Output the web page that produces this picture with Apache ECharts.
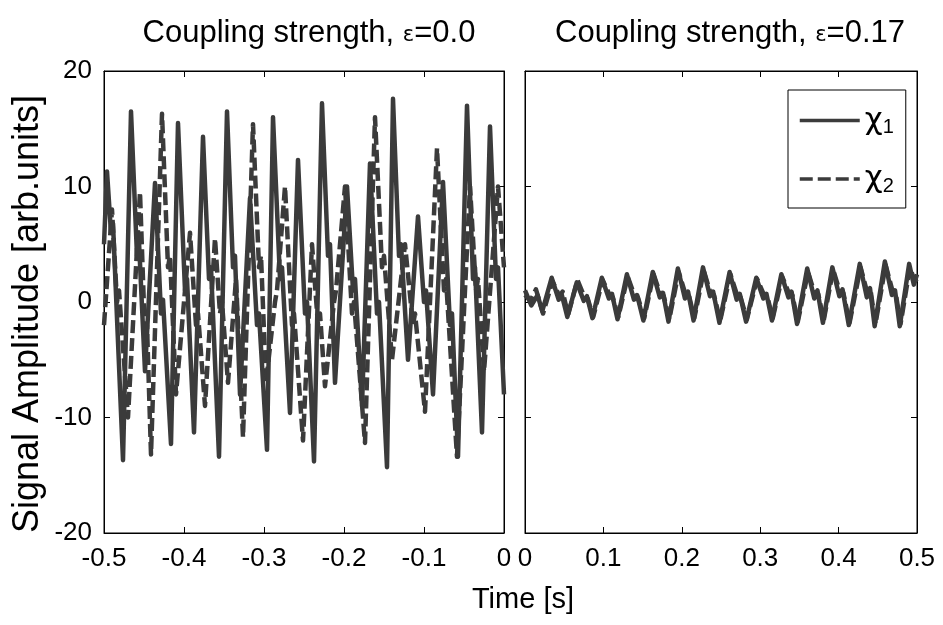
<!DOCTYPE html>
<html>
<head>
<meta charset="utf-8">
<script src="https://cdn.jsdelivr.net/npm/echarts@6/dist/echarts.min.js"></script>
<style>html,body{margin:0;padding:0;background:#fff}#c{width:943px;height:625px}</style>
</head>
<body>
<div id="c"></div>
<script>
// Uncoupled case (ε = 0.0), time window -0.5 .. 0 s : [time, amplitude]
const leftX1 = [
  [-0.5,5],[-0.49625,11.3],[-0.49125,6],[-0.48875,6.8],[-0.47625,-13.7],[-0.46625,16.5],
  [-0.45875,4],[-0.45625,5.2],[-0.44875,-6],[-0.43625,10.3],[-0.42875,-1],[-0.42625,0.2],
  [-0.41625,-12.3],[-0.4075,15.5],[-0.39875,1],[-0.39625,2],[-0.3875,-11.3],[-0.37625,14.3],
  [-0.36875,2],[-0.36625,3],[-0.35625,-13.4],[-0.34625,16.5],[-0.33875,3],[-0.33625,4],
  [-0.33,-8],[-0.3175,9],[-0.30875,-2],[-0.30625,-1],[-0.29625,-12.8],[-0.28875,16],
  [-0.28,2],[-0.2775,3],[-0.2675,-9.6],[-0.2575,12.3],[-0.24875,-1],[-0.24625,0],
  [-0.2375,-13.8],[-0.2275,17.2],[-0.22,4],[-0.2175,5],[-0.21125,-7],[-0.19625,10],
  [-0.18875,1],[-0.18625,2],[-0.1775,-9],[-0.1675,12],[-0.15875,-1],[-0.15625,0],
  [-0.14625,-14.3],[-0.13875,17.6],[-0.13125,4],[-0.12875,5],[-0.12,-5],[-0.1075,7.4],
  [-0.1,0],[-0.0975,1],[-0.08875,-8],[-0.07625,10.4],[-0.0675,-2],[-0.065,-1],
  [-0.0575,-13.4],[-0.04625,17],[-0.03875,2],[-0.03625,3],[-0.0275,-11.3],[-0.0175,15.2],
  [-0.01,2],[-0.0075,3],[0,-8]
];
const leftX2 = [
  [-0.5,-2],[-0.49,8],[-0.48375,0],[-0.48125,1],[-0.47,-10],[-0.455,9.5],
  [-0.44875,-3],[-0.44625,-2],[-0.44125,-13.2],[-0.4275,16.3],[-0.42,3],[-0.4175,4],
  [-0.41,-8],[-0.3925,6],[-0.385,-2],[-0.3825,-1],[-0.37375,-9],[-0.36125,5.5],
  [-0.355,-1],[-0.3525,0],[-0.345,-7],[-0.335,2],[-0.32625,-11.7],[-0.31375,15.4],
  [-0.30625,3],[-0.30375,4],[-0.2975,-7],[-0.28625,0],[-0.28375,1],[-0.27375,10],
  [-0.265,-2],[-0.2625,-1],[-0.25125,-12],[-0.24,5],[-0.2325,-2],[-0.23,-1],
  [-0.22375,-7.3],[-0.2125,0],[-0.21,1],[-0.19875,10],[-0.19,-1],[-0.1875,0],
  [-0.17375,-12.2],[-0.16125,16],[-0.1525,3],[-0.15,4],[-0.14,-5],[-0.12375,5],
  [-0.11375,-2],[-0.11125,-1],[-0.09875,-9.5],[-0.08375,13.3],[-0.075,1],[-0.0725,2],
  [-0.05875,-13.4],[-0.0425,10],[-0.035,1],[-0.0325,2],[-0.025,-6],[-0.0075,10],[0,3]
];
// Coupled case (ε = 0.17), time window 0 .. 0.5 s
const rightX1 = [
  [0,1.0],[0.008,-0.3],[0.016,0.6],[0.022,-0.8],[0.034,2.1],[0.043,0.2],[0.047,0.6],[0.054,-1.3],
  [0.066,1.7],[0.075,0.1],[0.079,0.5],[0.086,-1.4],[0.098,2.1],[0.107,0.3],[0.111,0.7],[0.118,-1.5],
  [0.130,2.4],[0.139,0.2],[0.143,0.6],[0.151,-1.6],[0.163,2.6],[0.172,0.4],[0.176,0.8],[0.183,-1.7],
  [0.195,2.9],[0.204,0.3],[0.208,0.9],[0.215,-1.6],[0.227,3.0],[0.236,0.5],[0.240,0.9],[0.248,-1.8],
  [0.261,2.6],[0.270,0.2],[0.274,0.7],[0.282,-1.7],[0.295,2.1],[0.304,0.3],[0.308,0.7],[0.315,-1.6],
  [0.327,2.4],[0.336,0.4],[0.340,0.9],[0.347,-1.9],[0.360,2.9],[0.369,0.3],[0.373,1.0],[0.380,-1.8],
  [0.392,3.0],[0.401,0.5],[0.405,1.1],[0.413,-2.0],[0.427,3.3],[0.436,0.4],[0.440,1.2],[0.446,-2.1],
  [0.459,3.5],[0.468,0.6],[0.472,1.0],[0.478,-2.1],[0.490,3.3],[0.496,1.5],[0.5,2.4]
];
const rightX2 = [
  [0,0.6],[0.007,0.1],[0.014,1.1],[0.023,-1.0],[0.035,1.8],[0.044,0.5],[0.048,0.9],[0.055,-1.1],
  [0.067,1.9],[0.076,0.4],[0.080,0.3],[0.087,-1.3],[0.099,1.9],[0.108,0.6],[0.112,0.4],[0.119,-1.3],
  [0.131,2.2],[0.140,0.5],[0.144,0.4],[0.152,-1.4],[0.164,2.4],[0.173,0.6],[0.177,0.5],[0.184,-1.5],
  [0.196,2.6],[0.205,0.6],[0.209,0.6],[0.216,-1.4],[0.228,2.7],[0.237,0.7],[0.241,0.6],[0.249,-1.6],
  [0.262,2.4],[0.271,0.5],[0.275,0.4],[0.283,-1.5],[0.296,2.0],[0.305,0.6],[0.309,0.5],[0.316,-1.4],
  [0.328,2.2],[0.337,0.7],[0.341,0.6],[0.348,-1.7],[0.361,2.6],[0.370,0.6],[0.374,0.7],[0.381,-1.6],
  [0.393,2.8],[0.402,0.8],[0.406,0.8],[0.414,-1.8],[0.428,3.0],[0.437,0.7],[0.441,0.9],[0.447,-1.9],
  [0.460,3.2],[0.469,0.9],[0.473,0.7],[0.479,-1.9],[0.491,3.0],[0.497,1.8],[0.5,2.0]
];
const titles = ['Coupling strength, {e|ε}=0.0', 'Coupling strength, {e|ε}=0.17'];
const xRanges = [[-0.5, 0], [0, 0.5]];
const yRange = [-20, 20];
const seriesNames = ['x1', 'x2'];
const xName = 'Time [s]';
const yName = 'Signal Amplitude [arb.units]';

const SANS = '"Liberation Sans", Arial, sans-serif';
const LINE = '#3b3b3b';
const chart = echarts.init(document.getElementById('c'), null, {renderer: 'canvas'});

const grids = [
  {left: 104, top: 71, width: 400, height: 462, show: true, borderColor: '#000', borderWidth: 1},
  {left: 525, top: 71, width: 392, height: 462, show: true, borderColor: '#000', borderWidth: 1}
];
const xAxes = [], yAxes = [];
const fmtX = v => Math.abs(v) < 1e-9 ? '0' : v.toFixed(1);
for (let g = 0; g < 2; g++) {
  const base = {type: 'value', gridIndex: g, min: xRanges[g][0], max: xRanges[g][1], interval: 0.1,
    splitLine: {show: false}, axisLine: {show: true, onZero: false, lineStyle: {color: '#000', width: 1}},
    axisTick: {show: true, inside: true, length: 6, lineStyle: {color: '#000'}}};
  xAxes.push(Object.assign({}, base, {position: 'bottom',
    axisLabel: {show: true, formatter: fmtX, color: '#000', fontFamily: SANS, fontSize: 26, margin: 13,
      showMinLabel: true, showMaxLabel: true}}));
  xAxes.push(Object.assign({}, base, {position: 'top', axisLabel: {show: false}}));
  const ybase = {type: 'value', gridIndex: g, min: yRange[0], max: yRange[1], interval: 10,
    splitLine: {show: false}, axisLine: {show: true, onZero: false, lineStyle: {color: '#000', width: 1}},
    axisTick: {show: true, inside: true, length: 6, lineStyle: {color: '#000'}}};
  yAxes.push(Object.assign({}, ybase, {position: 'left',
    axisLabel: {show: g === 0, color: '#000', fontFamily: SANS, fontSize: 26, margin: 12},
    name: g === 0 ? yName : '', nameLocation: 'middle', nameGap: 58,
    nameTextStyle: {color: '#000', fontFamily: SANS, fontSize: 36, padding: [0, 24, 0, 0]}}));
  yAxes.push(Object.assign({}, ybase, {position: 'right', axisLabel: {show: false}}));
}
function mk(name, data, g, dashed) {
  return {name: name, type: 'line', xAxisIndex: g * 2, yAxisIndex: g * 2, data: data,
    symbol: 'none', showSymbol: false, smooth: false, animation: false, sampling: null,
    z: dashed ? 2 : 3,
    lineStyle: {color: LINE, width: 4.5, type: dashed ? [13, 5] : 'solid', cap: 'butt', join: 'round'},
    itemStyle: {color: LINE}};
}
const series = [
  mk(seriesNames[1], leftX2, 0, true), mk(seriesNames[0], leftX1, 0, false),
  mk(seriesNames[1], rightX2, 1, true), mk(seriesNames[0], rightX1, 1, false)
];
const titleStyle = {color: '#000', fontFamily: SANS, fontSize: 31, fontWeight: 'normal',
  rich: {e: {fontFamily: '"DejaVu Sans", sans-serif', fontSize: 21, color: '#000', padding: [5, 0, 0, 0]}}};
chart.setOption({
  animation: false,
  backgroundColor: '#fff',
  title: [
    {text: titles[0], left: 304, top: 13, textAlign: 'center', textStyle: titleStyle},
    {text: titles[1], left: 725, top: 13, textAlign: 'center', textStyle: titleStyle}
  ],
  graphic: [{
    type: 'text', x: 523, y: 600,
    style: {text: xName, fill: '#000', font: '29px ' + SANS, align: 'center', verticalAlign: 'middle'}
  }],
  grid: grids,
  xAxis: xAxes,
  yAxis: yAxes,
  legend: {
    data: ['x1', 'x2'], orient: 'vertical', left: 788, top: 90, selectedMode: false,
    itemWidth: 60, itemHeight: 16, itemGap: 26, padding: [15, 12, 12, 10],
    borderColor: '#000', borderWidth: 1, backgroundColor: '#fff',
    itemStyle: {opacity: 0},
    lineStyle: {width: 3.5},
    formatter: n => '{c|χ}{s|' + n.slice(1) + '}',
    textStyle: {color: '#000', rich: {
      c: {fontFamily: '"DejaVu Sans", sans-serif', fontSize: 31, color: '#000'},
      s: {fontFamily: SANS, fontSize: 20, color: '#000', padding: [14, 0, 0, 0]}}}
  },
  series: series
});
</script>
</body>
</html>
